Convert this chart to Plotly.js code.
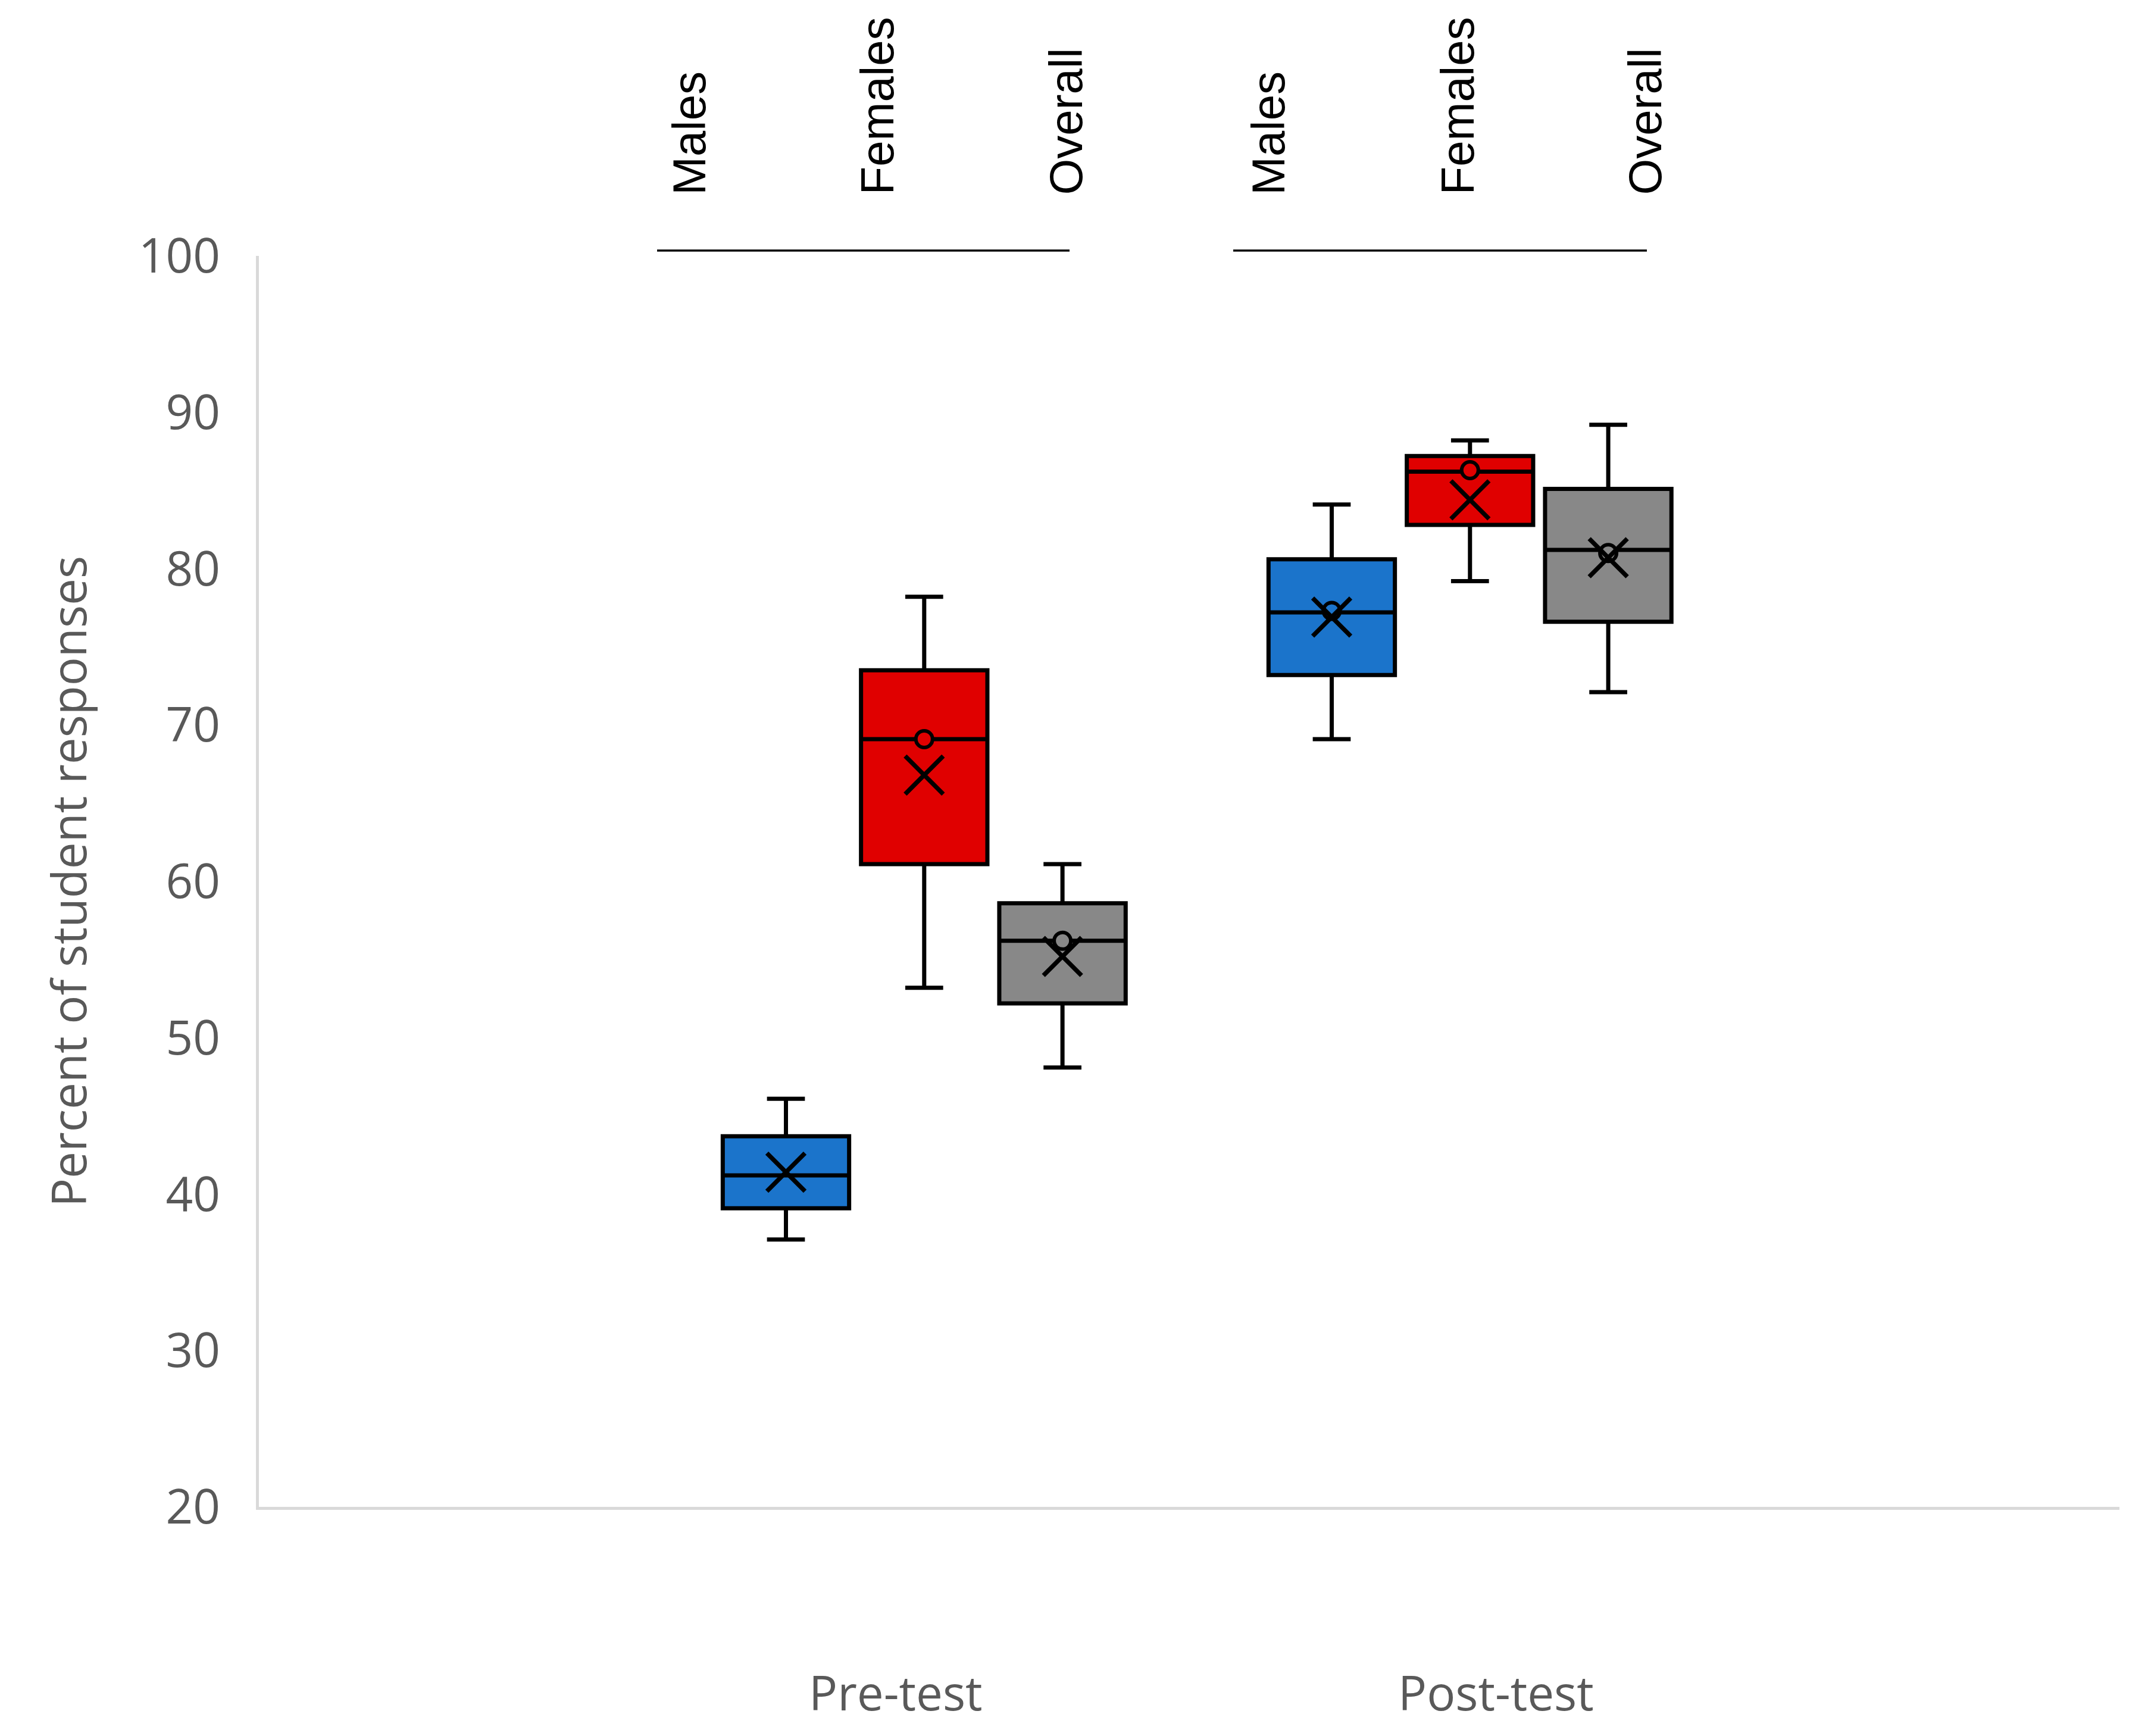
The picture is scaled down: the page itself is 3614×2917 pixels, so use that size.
<!DOCTYPE html>
<html>
<head>
<meta charset="utf-8">
<script src="https://cdn.plot.ly/plotly-3.0.1.min.js"></script>
<style>
  html, body { margin: 0; padding: 0; background: #fff; }
  #chart { width: 3614px; height: 2917px; }
</style>
</head>
<body>
<div id="chart"></div>
<script>
// categories
const tests = ['Pre-test', 'Post-test'];
const groups = ['Males', 'Females', 'Overall'];

// box statistics per group, [pre, post]
const malesLow = [37.1, 69.1];
const malesQ1 = [39.1, 73.2];
const malesMedian = [41.2, 77.2];
const malesQ3 = [43.7, 80.6];
const malesHigh = [46.1, 84.1];
const malesMean = [41.4, 76.9];
const malesPoint = [null, 77.3];

const femalesLow = [53.2, 79.2];
const femalesQ1 = [61.1, 82.8];
const femalesMedian = [69.1, 86.2];
const femalesQ3 = [73.5, 87.2];
const femalesHigh = [78.2, 88.2];
const femalesMean = [66.8, 84.4];
const femalesPoint = [69.1, 86.3];

const overallLow = [48.1, 72.1];
const overallQ1 = [52.2, 76.6];
const overallMedian = [56.2, 81.2];
const overallQ3 = [58.6, 85.1];
const overallHigh = [61.1, 89.2];
const overallMean = [55.2, 80.7];
const overallPoint = [56.2, 81.0];

const colors = ['#1b74cb', '#e00000', '#888888'];

const W = 3614, H = 2917;
const M = { l: 435, r: 53, t: 430, b: 385 };
const plotW = W - M.l - M.r;
const plotH = H - M.t - M.b;
// pixel -> paper helpers
const px = x => (x - M.l) / plotW;
const py = y => (H - M.b - y) / plotH;

const stats = [
  [malesLow, malesQ1, malesMedian, malesQ3, malesHigh, malesMean, malesPoint],
  [femalesLow, femalesQ1, femalesMedian, femalesQ3, femalesHigh, femalesMean, femalesPoint],
  [overallLow, overallQ1, overallMedian, overallQ3, overallHigh, overallMean, overallPoint]
];

const boxes = stats.map((s, i) => ({
  type: 'box',
  name: groups[i],
  x: tests,
  lowerfence: s[0], q1: s[1], median: s[2], q3: s[3], upperfence: s[4],
  fillcolor: colors[i],
  line: { color: '#000', width: 7 },
  whiskerwidth: 0.3,
  boxpoints: false,
  offsetgroup: groups[i],
  hoverinfo: 'skip'
}));

// small circles on the medians
const points = stats.map((s, i) => ({
  type: 'scatter',
  mode: 'markers',
  x: tests,
  y: s[6],
  offsetgroup: groups[i],
  marker: { symbol: 'circle', size: 28, color: colors[i], line: { color: '#000', width: 6 } },
  hoverinfo: 'skip'
}));

// mean crosses
const means = stats.map((s, i) => ({
  type: 'scatter',
  mode: 'markers',
  x: tests,
  y: s[5],
  offsetgroup: groups[i],
  marker: { symbol: 'x-thin-open', size: 64, color: '#000', line: { color: '#000', width: 7.5 } },
  hoverinfo: 'skip'
}));

// rotated group labels above the chart
const labelX = [[1158, 1473, 1790], [2131, 2448, 2763]];
const labels = [];
labelX.forEach(row => row.forEach((x, j) => labels.push({
  xref: 'paper', yref: 'paper',
  x: px(x), y: py(330),
  xanchor: 'center', yanchor: 'bottom',
  text: groups[j], textangle: -90, showarrow: false,
  font: { family: 'Liberation Sans, Arial, sans-serif', size: 78, color: '#000' }
})));

// category labels under the axis (slightly offset from the box groups, as in the original)
const catShift = [-48, 44];
const catLabels = tests.map((t, i) => ({
  xref: 'x', yref: 'paper',
  x: t, y: py(2842), xshift: catShift[i],
  xanchor: 'center', yanchor: 'middle',
  text: t, showarrow: false,
  font: { family: 'Open Sans, sans-serif', size: 80, color: '#595959' }
}));

const bracketLines = [[1104, 1797], [2072, 2767]].map(r => ({
  type: 'line', xref: 'paper', yref: 'paper',
  x0: px(r[0]), x1: px(r[1]), y0: py(421), y1: py(421),
  line: { color: '#000', width: 3.5 }
}));

const layout = {
  width: W, height: H,
  margin: M,
  paper_bgcolor: '#fff', plot_bgcolor: '#fff',
  showlegend: false,
  boxmode: 'group', boxgap: 0.24, boxgroupgap: 0.086,
  scattermode: 'group', scattergap: 0.24,
  font: { family: 'Open Sans, sans-serif', color: '#595959' },
  xaxis: {
    type: 'category', categoryorder: 'array', categoryarray: tests,
    range: [-1.219, 2.19],
    showline: true, linecolor: '#d9d9d9', linewidth: 5,
    showgrid: false, zeroline: false, ticks: '',
    showticklabels: false
  },
  yaxis: {
    range: [20, 100], dtick: 10,
    showline: true, linecolor: '#d9d9d9', linewidth: 5,
    showgrid: false, zeroline: false, ticks: '',
    tickfont: { size: 80, color: '#595959' },
    ticklabelstandoff: 44,
    title: { text: 'Percent of student responses', font: { size: 80, color: '#595959' }, standoff: 62 }
  },
  annotations: [...labels, ...catLabels],
  shapes: bracketLines
};

Plotly.newPlot('chart', [...boxes, ...points, ...means], layout, { staticPlot: true });
</script>
</body>
</html>
